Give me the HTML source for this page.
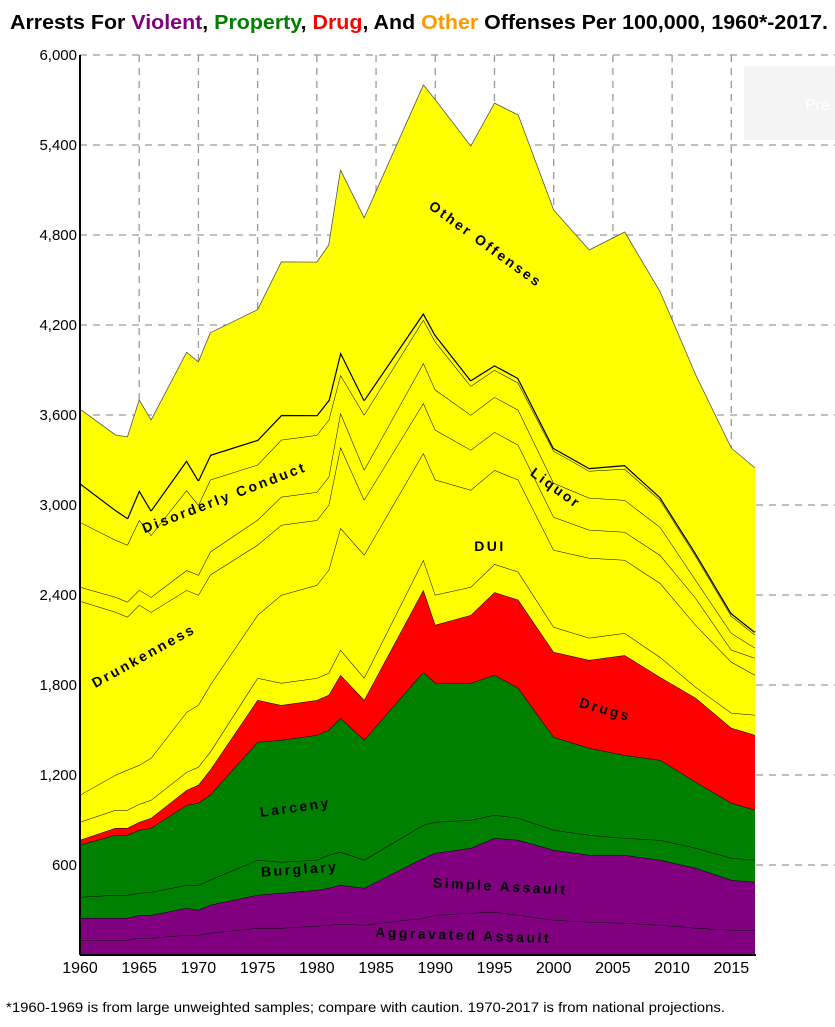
<!DOCTYPE html>
<html><head><meta charset="utf-8">
<style>
body{margin:0;background:#fff;width:835px;height:1027px;overflow:hidden;font-family:"Liberation Sans",Arial,sans-serif}
svg{display:block}
</style></head><body>
<svg id="chart" width="835" height="1027" viewBox="0 0 835 1027" xmlns="http://www.w3.org/2000/svg">
<text x="10" y="29" textLength="818" lengthAdjust="spacingAndGlyphs" font-size="20" font-weight="bold" fill="#000">Arrests For <tspan fill="#800080">Violent</tspan>, <tspan fill="#008000">Property</tspan>, <tspan fill="#ff0000">Drug</tspan>, And <tspan fill="#ff9900">Other</tspan> Offenses Per 100,000, 1960*-2017.</text>
<g id="grid"></g>
<g id="areas"></g>
<g id="axes"></g>
<g font-size="14" font-weight="bold" letter-spacing="2.5" fill="#000" text-anchor="middle">
<text transform="translate(483,248) rotate(36)">Other Offenses</text>
<text transform="translate(553,492) rotate(36)">Liquor</text>
<text x="490" y="551">DUI</text>
<text transform="translate(604,714) rotate(16)">Drugs</text>
<text transform="translate(226,502) rotate(-21)">Disorderly Conduct</text>
<text transform="translate(146,660) rotate(-29)">Drunkenness</text>
<text transform="translate(296,812) rotate(-8)">Larceny</text>
<text transform="translate(300,874) rotate(-4)">Burglary</text>
<text transform="translate(500,891) rotate(3)">Simple Assault</text>
<text transform="translate(463,940) rotate(2)">Aggravated Assault</text>
</g>
<g>
<rect x="744" y="66" width="91" height="74" fill="#f4f4f4"/>
<text x="805" y="110" font-size="16" fill="#fff">Pre</text>
</g>
<text x="6" y="1012" font-size="14" textLength="719" lengthAdjust="spacingAndGlyphs" fill="#000">*1960-1969 is from large unweighted samples; compare with caution. 1970-2017 is from national projections.</text>
</svg>
<script>
const years=[1960,1963,1964,1965,1966,1969,1970,1971,1975,1977,1980,1981,1982,1984,1989,1990,1993,1995,1997,2000,2003,2006,2009,2012,2015,2017];
const aggravatedAssault=[100,100,100,113,113,133,133,147,180,180,193,200,207,200,247,267,280,287,267,233,220,213,200,180,167,167];
const simpleAssault=[147,147,147,153,153,180,167,187,220,233,240,247,260,247,400,413,433,493,500,467,447,453,433,400,333,320];
const burglary=[140,153,153,147,153,153,167,167,233,207,200,220,220,187,220,207,187,153,147,133,133,113,133,133,147,147];
const larceny=[347,400,400,420,427,533,547,567,787,813,833,833,893,800,1020,927,913,933,867,620,580,553,533,440,367,333];
const drugs=[33,47,47,53,67,100,120,167,280,233,233,233,287,267,547,387,453,553,587,567,587,667,553,560,500,500];
const miscOffenses=[120,120,120,120,120,120,120,120,147,147,147,147,167,147,200,200,187,187,187,167,147,147,133,73,100,133];
const dui=[180,233,267,260,280,400,413,447,420,587,620,687,813,820,713,767,647,627,613,513,533,487,493,413,340,267];
const drunkenness=[1293,1087,1020,1067,973,813,733,733,467,467,433,433,540,367,333,333,267,253,233,220,187,187,187,180,80,113];
const liquor=[93,100,100,100,100,133,133,153,167,187,187,187,227,200,267,267,233,233,233,227,213,213,187,120,113,67];
const disorderly=[433,380,380,467,413,533,467,480,367,380,380,380,253,367,287,320,193,180,180,213,180,207,180,160,113,87];
const vagrancyEtc=[260,200,180,200,167,200,167,167,167,167,133,133,153,100,47,47,40,33,33,20,20,27,20,20,20,20];
const otherOffenses=[493,500,540,600,600,720,787,813,867,1020,1020,1033,1213,1213,1520,1567,1560,1747,1753,1587,1453,1553,1367,1187,1100,1093];
const yTicks=[600,1200,1800,2400,3000,3600,4200,4800,5400,6000];
const yTickLabels=["600","1,200","1,800","2,400","3,000","3,600","4,200","4,800","5,400","6,000"];
const xTicks=[1960,1965,1970,1975,1980,1985,1990,1995,2000,2005,2010,2015];

const NS="http://www.w3.org/2000/svg";
const x=yr=>80+(yr-1960)*(675/57);
const y=v=>955-v*0.15;
function mk(tag,attrs,parent){const e=document.createElementNS(NS,tag);for(const k in attrs)e.setAttribute(k,attrs[k]);parent.appendChild(e);return e;}

const grid=document.getElementById('grid');
xTicks.forEach(t=>{
  const l=mk('line',{x1:x(t),x2:x(t),y1:55,y2:955,stroke:'#999','stroke-width':1.3,'stroke-dasharray':'7,6'},grid);
  
  
});
yTicks.forEach(t=>{
  const l=mk('line',{x1:80,x2:835,y1:y(t),y2:y(t),stroke:'#999','stroke-width':1.3,'stroke-dasharray':'7,6'},grid);
  
  
});

const layers=[
 {n:'aggravated-assault',d:aggravatedAssault,c:'#800080'},
 {n:'simple-assault',d:simpleAssault,c:'#800080'},
 {n:'burglary',d:burglary,c:'#008000'},
 {n:'larceny',d:larceny,c:'#008000'},
 {n:'drugs',d:drugs,c:'#ff0000'},
 {n:'misc-offenses',d:miscOffenses,c:'#ffff00'},
 {n:'dui',d:dui,c:'#ffff00'},
 {n:'drunkenness',d:drunkenness,c:'#ffff00'},
 {n:'liquor',d:liquor,c:'#ffff00'},
 {n:'disorderly-conduct',d:disorderly,c:'#ffff00'},
 {n:'vagrancy-etc',d:vagrancyEtc,c:'#ffff00',w:2.4},
 {n:'other-offenses',d:otherOffenses,c:'#ffff00',w:0.8,st:'#555'}
];
const areas=document.getElementById('areas');
let base=years.map(()=>0);
layers.forEach(L=>{
  const top=base.map((b,i)=>b+L.d[i]);
  let d='M'+years.map((yr,i)=>x(yr).toFixed(1)+','+y(top[i]).toFixed(1)).join('L');
  for(let i=years.length-1;i>=0;i--)d+='L'+x(years[i]).toFixed(1)+','+y(base[i]).toFixed(1);
  d+='Z';
  const p=mk('path',{d:d,fill:L.c,stroke:'none'},areas);
  
  
  const ln=mk('path',{d:'M'+years.map((yr,i)=>x(yr).toFixed(1)+','+y(top[i]).toFixed(1)).join('L'),fill:'none',stroke:L.st||'#000','stroke-width':L.w||1,'stroke-linejoin':'round'},areas);
  
  
  base=top;
});

const axes=document.getElementById('axes');
const ya=mk('line',{x1:80,x2:80,y1:55,y2:955,stroke:'#000','stroke-width':2},axes);


const xa=mk('line',{x1:80,x2:756,y1:955,y2:955,stroke:'#000','stroke-width':2},axes);


yTicks.forEach((t,i)=>{
  const tx=mk('text',{x:77,y:y(t)+5,'text-anchor':'end','font-size':15,fill:'#000'},axes);
  tx.textContent=yTickLabels[i];
  
  
});
xTicks.forEach(t=>{
  const tx=mk('text',{x:x(t),y:973,'text-anchor':'middle','font-size':16,fill:'#000'},axes);
  tx.textContent=t;
  
  
});
</script>
</body></html>
